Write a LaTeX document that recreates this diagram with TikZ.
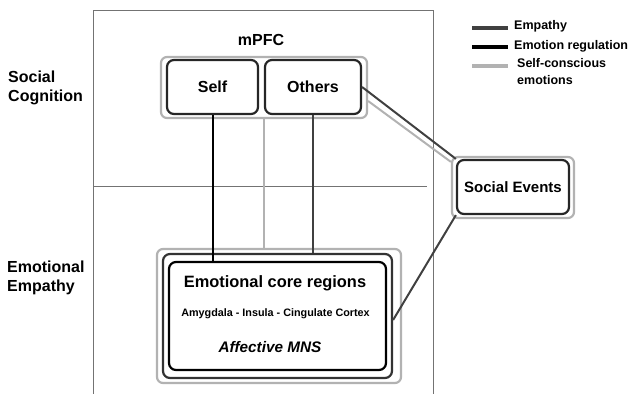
\documentclass[tikz,border=0pt]{standalone}
\usepackage{fontspec}
\setmainfont{Liberation Sans}
\usetikzlibrary{positioning, calc}

\begin{document}
\begin{tikzpicture}[
    x=1pt, y=-1pt,
    % styles
    grpbox/.style={draw=black!30, line width=2.2pt, rounded corners=6pt, minimum width=#1},
    regbox/.style={draw=black!85, line width=2.2pt, rounded corners=7pt},
    lbl/.style={font=\bfseries\fontsize{16}{19}\selectfont, align=left, inner sep=0pt},
    legtxt/.style={font=\bfseries\fontsize{12.5}{17}\selectfont, align=left, inner sep=0pt, anchor=west},
    empathy/.style={black!75, line width=2pt},
    regulation/.style={black, line width=2pt},
    selfcon/.style={black!30, line width=2pt},
    frame/.style={black!55, line width=0.9pt}
]
    \useasboundingbox (0,0) rectangle (633,394);

    % frame and divider
    \draw[frame] (93,394) -- (93,10) -- (433,10) -- (433,394);
    \draw[frame] (93,186) -- (427,186);

    % left labels
    \node[lbl, anchor=west] (SocCog) at (8,87.5) {Social\\Cognition};
    \node[lbl, anchor=west] (EmoEmp) at (7,277.5) {Emotional\\Empathy};

    % mPFC
    \node[lbl] (mPFC) at (261,40) {mPFC};
    \node[grpbox=206pt, minimum height=61pt] (PFCgrp) at (264,87.5) {};
    \node[regbox, minimum width=91pt, minimum height=54pt, lbl] (Self) at (212.5,87) {Self};
    \node[regbox, minimum width=96pt, minimum height=54pt, lbl] (Others) at (313,87) {Others};

    % emotional core
    \node[grpbox=244pt, minimum height=134pt] (CoreGrp) at (279,316) {};
    \node[regbox, draw=black!80, minimum width=229pt, minimum height=124pt] (CoreMid) at (277.5,316) {};
    \node[regbox, draw=black, minimum width=217pt, minimum height=108pt] (Core) at (277.5,316) {};
    \node[lbl, font=\bfseries\fontsize{16.4}{19}\selectfont] (CoreTitle) at (275,283) {Emotional core regions};
    \node[lbl, font=\bfseries\fontsize{10.8}{13}\selectfont] (Regions) at (275.5,314) {Amygdala - Insula - Cingulate Cortex};
    \node[lbl, font=\bfseries\itshape\fontsize{15.3}{18}\selectfont] (MNS) at (270,347) {Affective MNS};

    % social events
    \node[grpbox=122pt, minimum height=61pt] (EvGrp) at (513,187.5) {};
    \node[regbox, minimum width=112pt, minimum height=54pt, lbl, font=\bfseries\fontsize{15}{18}\selectfont] (Events) at (513,187) {Social Events};

    % connections
    \draw[regulation] (Self.south) -- (Self.south |- Core.north);
    \draw[selfcon] (PFCgrp.south) -- (PFCgrp.south |- CoreGrp.north);
    \draw[empathy] (Others.south) -- (Others.south |- CoreMid.north);
    \draw[empathy] (Others.east) -- (Events.north west);
    \draw[selfcon] ([yshift=-13.5pt]PFCgrp.east) -- ([yshift=-6pt]EvGrp.north west);
    \draw[empathy] (Events.south west) -- ([yshift=-4pt]CoreMid.east);

    % legend
    \node[legtxt] (LegEmp) at (514,26) {Empathy};
    \node[legtxt] (LegReg) at (514,46) {Emotion regulation};
    \node[legtxt] (LegSelf) at (517,71.5) {Self-conscious\\emotions};
    \coordinate (kEmp) at (472,28);
    \coordinate (kReg) at (472,47);
    \coordinate (kSelf) at (472,66);
    \draw[empathy, line width=3.4pt] (kEmp) -- ([xshift=-6pt]kEmp -| LegEmp.west);
    \draw[regulation, line width=3.4pt] (kReg) -- ([xshift=-6pt]kReg -| LegReg.west);
    \draw[selfcon, line width=3.4pt] (kSelf) -- ([xshift=-9pt]kSelf -| LegSelf.west);

\end{tikzpicture}
\end{document}
